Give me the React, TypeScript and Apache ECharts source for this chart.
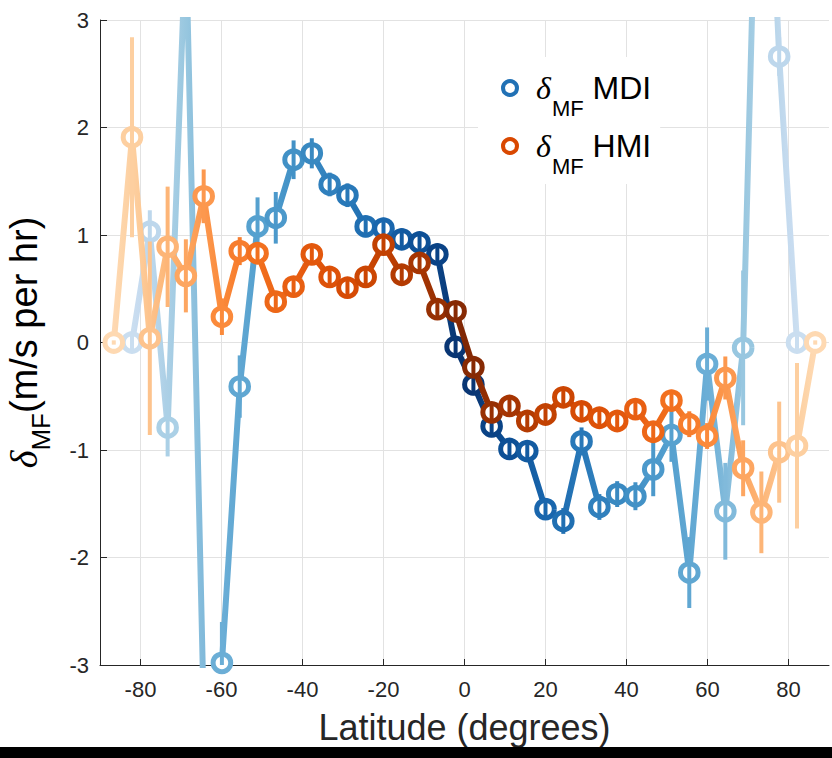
import React, { useEffect, useRef } from "react";
import * as echarts from "echarts";

// Latitude bin centres (degrees)
const latitudes = [
  -86.6, -82.1, -77.7, -73.3, -68.8, -64.4, -59.9, -55.5, -51.1, -46.6,
  -42.2, -37.7, -33.3, -28.9, -24.4, -20.0, -15.5, -11.1, -6.7, -2.2,
  2.2, 6.7, 11.1, 15.5, 20.0, 24.4, 28.9, 33.3, 37.7, 42.2,
  46.6, 51.1, 55.5, 59.9, 64.4, 68.8, 73.3, 77.7, 82.1, 86.6,
];

// δMF MDI (m/s per hr)
const mdiValues = [
  null, 0.0, 1.03, -0.79, 3.75, -3.4, -2.98, -0.41, 1.08, 1.16,
  1.70, 1.76, 1.47, 1.37, 1.08, 1.06, 0.96, 0.93, 0.82, -0.04,
  -0.39, -0.78, -0.99, -1.01, -1.55, -1.66, -0.92, -1.53, -1.41, -1.43,
  -1.18, -0.86, -2.14, -0.20, -1.57, -0.05, 6.3, 2.66, 0.0, null,
];
const mdiErrors = [
  null, 0.08, 0.2, 0.27, 0.3, 0.4, 0.38, 0.29, 0.27, 0.24,
  0.18, 0.14, 0.11, 0.11, 0.1, 0.1, 0.1, 0.1, 0.1, 0.1,
  0.1, 0.1, 0.1, 0.1, 0.1, 0.12, 0.13, 0.12, 0.12, 0.13,
  0.25, 0.25, 0.33, 0.34, 0.45, 0.72, 0.6, 0.18, 0.06, null,
];

// δMF HMI (m/s per hr)
const hmiValues = [
  0.0, 1.91, 0.04, 0.89, 0.62, 1.36, 0.24, 0.85, 0.83, 0.38,
  0.52, 0.82, 0.61, 0.51, 0.61, 0.91, 0.63, 0.74, 0.31, 0.29,
  -0.23, -0.65, -0.59, -0.73, -0.67, -0.51, -0.64, -0.70, -0.73, -0.62,
  -0.83, -0.54, -0.76, -0.87, -0.33, -1.17, -1.58, -1.02, -0.96, 0.0,
];
const hmiErrors = [
  0.02, 0.93, 0.9, 0.56, 0.34, 0.25, 0.17, 0.13, 0.1, 0.1,
  0.09, 0.08, 0.08, 0.08, 0.08, 0.08, 0.08, 0.08, 0.08, 0.08,
  0.08, 0.08, 0.08, 0.08, 0.08, 0.08, 0.08, 0.08, 0.08, 0.09,
  0.1, 0.1, 0.12, 0.12, 0.2, 0.26, 0.38, 0.47, 0.77, 0.02,
];

const xTicks = [-80, -60, -40, -20, 0, 20, 40, 60, 80];
const X_MIN = -90;
const X_MAX = 90;
const Y_MIN = -3;
const Y_MAX = 3;

// colour by |latitude|, stops at 0,10,...,90 degrees
const blueStops = ["#08306b", "#0b4d93", "#1966ad", "#2a7ab9", "#3d8dc4", "#539fce", "#6baed6", "#9ecae1", "#c6dbef", "#dbe9f6"];
const orangeStops = ["#7f2704", "#a33403", "#c24102", "#d84c05", "#e65b0f", "#f16d1c", "#fb8a3b", "#fdaa66", "#fdcb98", "#fee0c0"];

const FONT = "'Liberation Sans', Arial, Helvetica, sans-serif";
const TEXT = "#262626";

function hexToRgb(h: string) {
  const n = parseInt(h.slice(1), 16);
  return [(n >> 16) & 255, (n >> 8) & 255, n & 255];
}
function colorFor(lat: number, stops: string[]) {
  const a = Math.min(Math.abs(lat), 90) / 10;
  const i = Math.min(Math.floor(a), stops.length - 1);
  const j = Math.min(i + 1, stops.length - 1);
  const t = a - i;
  const c0 = hexToRgb(stops[i]);
  const c1 = hexToRgb(stops[j]);
  const c = c0.map((v, k) => Math.round(v + (c1[k] - v) * t));
  return `rgb(${c[0]},${c[1]},${c[2]})`;
}
function symmetric(stops: string[]) {
  return [...stops].slice().reverse().concat(stops.slice(1));
}

function lineData(vals: (number | null)[]) {
  return latitudes.map((lat, i) => [lat, vals[i] === null ? "-" : vals[i]]);
}
function barData(vals: (number | null)[], errs: (number | null)[]) {
  return latitudes
    .map((lat, i) => [lat, vals[i], errs[i]])
    .filter((d) => d[1] !== null);
}

function makeRenderer(stops: string[]) {
  return (params: any, api: any) => {
    const lat = api.value(0);
    const v = api.value(1);
    const e = api.value(2) || 0;
    if (v > Y_MAX || v < Y_MIN) return null;
    const lo = Math.max(v - e, Y_MIN);
    const hi = Math.min(v + e, Y_MAX);
    const pc = api.coord([lat, v]);
    const pl = api.coord([lat, lo]);
    const ph = api.coord([lat, hi]);
    const color = colorFor(lat, stops);
    return {
      type: "group",
      children: [
        {
          type: "circle",
          shape: { cx: pc[0], cy: pc[1], r: 8.8 },
          style: { fill: "#fff", stroke: color, lineWidth: 5 },
        },
        {
          type: "line",
          shape: { x1: pl[0], y1: pl[1], x2: ph[0], y2: ph[1] },
          style: { stroke: color, lineWidth: 4 },
        },
      ],
    };
  };
}

const subRich = (big: number, small: number, shift: number) => ({
  d: { fontFamily: "'Liberation Serif', 'DejaVu Serif', serif", fontStyle: "italic", fontSize: big, color: "#000" },
  s: { fontFamily: FONT, fontSize: small, color: "#000", padding: [shift, 0, 0, 0] },
  n: { fontFamily: FONT, fontSize: big, color: "#000" },
});

export default function App() {
  const ref = useRef<HTMLDivElement>(null);
  useEffect(() => {
    if (!ref.current) return;
    const chart = echarts.init(ref.current, null, { renderer: "svg" });
    const legendRich = subRich(32, 22, 40);
    (legendRich.d as any).padding = [0, 1, 0, 14];
    const option: any = {
      animation: false,
      backgroundColor: "#fff",
      grid: { left: 100, right: 3, top: 20, bottom: 93, containLabel: false, outerBoundsMode: "none" },
      xAxis: {
        type: "value",
        min: X_MIN,
        max: X_MAX,
        name: "Latitude (degrees)",
        nameLocation: "middle",
        nameGap: 44,
        nameTextStyle: { fontSize: 36, color: TEXT, fontFamily: FONT },
        axisLine: { show: true, onZero: false, lineStyle: { color: TEXT, width: 1 } },
        axisTick: { show: true, inside: true, length: 6, customValues: xTicks, lineStyle: { color: TEXT } },
        axisLabel: { customValues: xTicks, fontSize: 22, color: TEXT, margin: 13, fontFamily: FONT },
        splitLine: { show: true, lineStyle: { color: "#e2e2e2", width: 1 } },
      },
      yAxis: {
        type: "value",
        min: Y_MIN,
        max: Y_MAX,
        interval: 1,
        name: "{d|δ}{s|MF}{n|(m/s per hr)}",
        nameLocation: "middle",
        nameRotate: 90,
        nameGap: 46,
        nameTextStyle: { rich: subRich(38, 26, 34), padding: [0, 0, 0, 0] },
        axisLine: { show: true, onZero: false, lineStyle: { color: TEXT, width: 1 } },
        axisTick: { show: true, inside: true, length: 7, lineStyle: { color: TEXT } },
        axisLabel: { fontSize: 22, color: TEXT, margin: 11, fontFamily: FONT },
        splitLine: { show: true, lineStyle: { color: "#e2e2e2", width: 1 } },
      },
      legend: {
        orient: "vertical",
        left: 478,
        top: 57,
        padding: [15, 9, 7, 23],
        itemGap: 11,
        itemWidth: 14,
        itemHeight: 14,
        icon: "circle",
        backgroundColor: "#fff",
        data: [
          { name: "MDI", itemStyle: { color: "#fff", borderColor: "#2171b5", borderWidth: 4 } },
          { name: "HMI", itemStyle: { color: "#fff", borderColor: "#d94801", borderWidth: 4 } },
        ],
        formatter: (name: string) => `{d|δ}{s|MF}{n| ${name}}`,
        textStyle: { rich: legendRich },
      },
      visualMap: [
        { type: "continuous", show: false, seriesIndex: 0, dimension: 0, min: X_MIN, max: X_MAX, inRange: { color: symmetric(blueStops) } },
        { type: "continuous", show: false, seriesIndex: 2, dimension: 0, min: X_MIN, max: X_MAX, inRange: { color: symmetric(orangeStops) } },
      ],
      series: [
        {
          name: "MDI",
          type: "line",
          data: lineData(mdiValues),
          showSymbol: false,
          clip: true,
          z: 2,
          lineStyle: { width: 6, cap: "round", join: "round" },
        },
        {
          name: "MDI",
          type: "custom",
          data: barData(mdiValues, mdiErrors),
          renderItem: makeRenderer(blueStops),
          clip: false,
          z: 3,
        },
        {
          name: "HMI",
          type: "line",
          data: lineData(hmiValues),
          showSymbol: false,
          clip: true,
          z: 4,
          lineStyle: { width: 6, cap: "round", join: "round" },
        },
        {
          name: "HMI",
          type: "custom",
          data: barData(hmiValues, hmiErrors),
          renderItem: makeRenderer(orangeStops),
          clip: false,
          z: 5,
        },
      ],
      graphic: [
        {
          type: "rect",
          z: 100,
          shape: { x: 0, y: 747, width: 832, height: 11 },
          style: { fill: "#000" },
        },
      ],
    };
    chart.setOption(option);
    return () => chart.dispose();
  }, []);
  return <div ref={ref} style={{ width: 832, height: 758, position: "absolute", left: 0, top: 0 }} />;
}
